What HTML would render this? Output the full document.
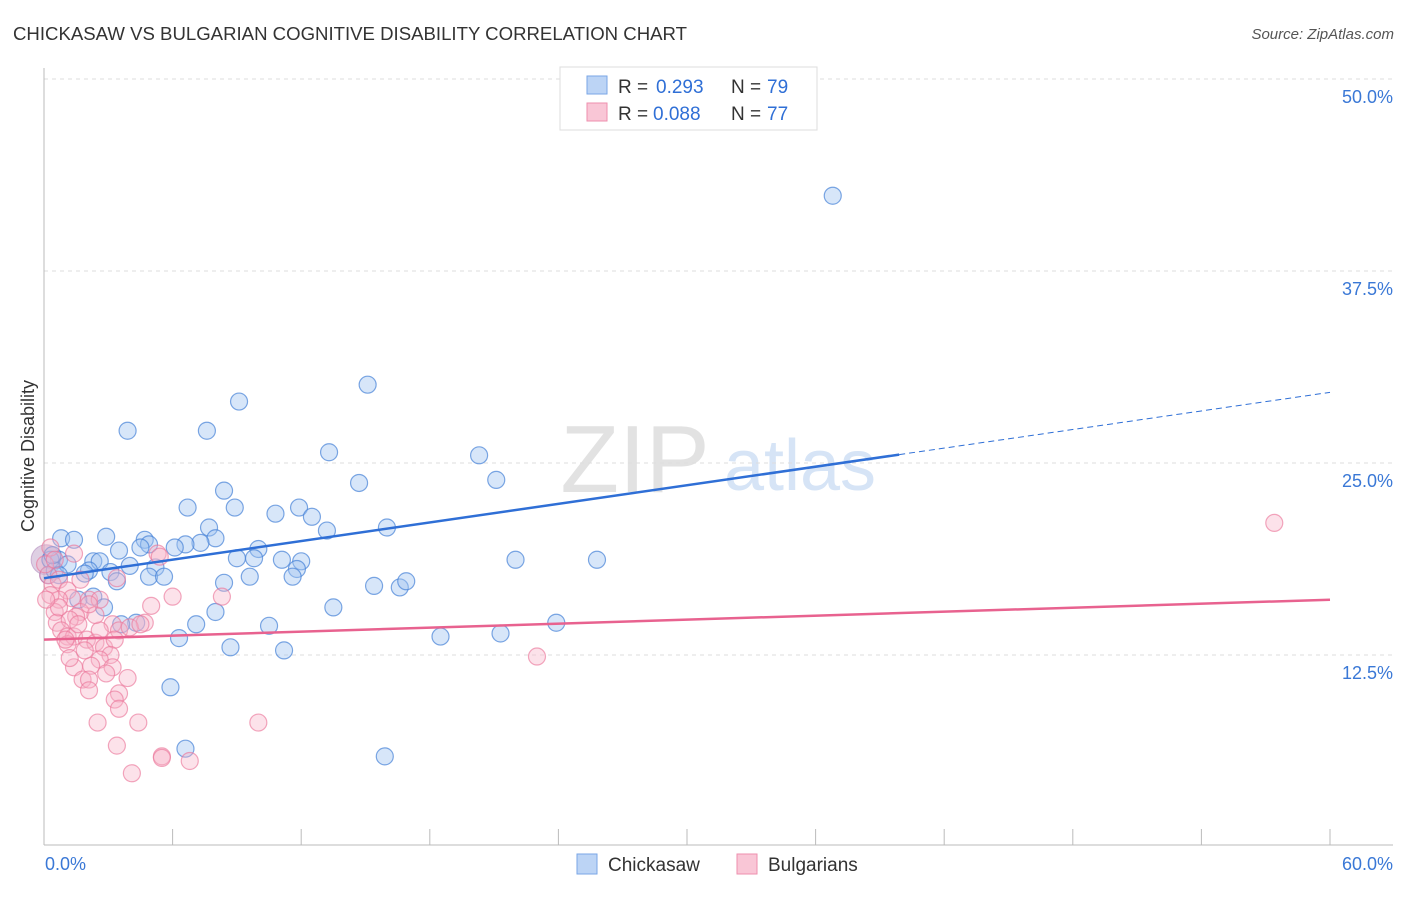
<!DOCTYPE html>
<html><head><meta charset="utf-8"><style>
body{margin:0;background:#fff;font-family:"Liberation Sans",sans-serif;}
svg text{font-family:"Liberation Sans",sans-serif;}
</style></head><body>
<svg id="chart" width="1406" height="892">
<text x="13" y="40" font-size="18.6" fill="#333">CHICKASAW VS BULGARIAN COGNITIVE DISABILITY CORRELATION CHART</text>
<text x="1394" y="39" font-size="15" fill="#555" font-style="italic" text-anchor="end">Source: ZipAtlas.com</text>
<text x="635" y="492" font-size="96" fill="#e2e2e2" text-anchor="middle" font-family="Liberation Serif">ZIP</text>
<text x="800" y="490" font-size="72" fill="#d6e4f6" text-anchor="middle">atlas</text>
<g id="grid"></g><g id="axes"></g><g id="pts"></g><g id="lines"></g>
<text transform="translate(34,456) rotate(-90)" font-size="18" fill="#333" text-anchor="middle">Cognitive Disability</text>
<text x="45" y="870" font-size="18" fill="#3a78d6">0.0%</text>
<text x="1393" y="870" font-size="18" fill="#3a78d6" text-anchor="end">60.0%</text>
<g>
<rect x="560" y="67" width="257" height="63" fill="#fff" stroke="#ddd"/>
<rect x="587" y="76" width="20" height="18" fill="#bcd4f5" stroke="#7aa6e6"/>
<rect x="587" y="103" width="20" height="18" fill="#f9c6d6" stroke="#ee8fae"/>
<text x="618" y="93" font-size="19" fill="#333">R =</text>
<text x="656" y="93" font-size="19" fill="#2f6fd6">0.293</text>
<text x="731" y="93" font-size="19" fill="#333">N =</text>
<text x="767" y="93" font-size="19" fill="#2f6fd6">79</text>
<text x="618" y="120" font-size="19" fill="#333">R =</text>
<text x="653" y="120" font-size="19" fill="#2f6fd6">0.088</text>
<text x="731" y="120" font-size="19" fill="#333">N =</text>
<text x="767" y="120" font-size="19" fill="#2f6fd6">77</text>
</g>
<g>
<rect x="577" y="854" width="20" height="20" fill="#bcd4f5" stroke="#7aa6e6"/>
<text x="608" y="871" font-size="19" fill="#333">Chickasaw</text>
<rect x="737" y="854" width="20" height="20" fill="#f9c6d6" stroke="#ee8fae"/>
<text x="768" y="871" font-size="19" fill="#333">Bulgarians</text>
</g>
</svg>
<script>
const yTicks=[12.5,25,37.5,50];
const yTickLabels=["12.5%","25.0%","37.5%","50.0%"];
const xTicks=[0,6,12,18,24,30,36,42,48,54,60];
const blueX=[36.8,15.1,9.1,3.9,7.6,13.3,20.3,14.7,21.1,8.4,6.7,8.9,11.9,10.8,12.5,7.7,13.2,16.0,0.8,1.4,2.9,4.7,4.9,8.0,7.3,6.6,6.1,4.5,3.5,10.0,9.0,9.8,11.1,12.0,22.0,25.8,0.7,2.3,2.6,4.0,5.2,2.1,11.8,1.9,3.1,4.9,5.6,9.6,11.6,3.4,8.4,15.4,16.6,16.9,2.3,1.6,2.8,8.0,13.5,4.3,3.6,7.1,10.5,23.9,18.5,21.3,6.3,8.7,11.2,5.9,6.6,15.9,0.3,0.2,0.5,1.1,0.7,0.4];
const blueY=[42.4,30.1,29.0,27.1,27.1,25.7,25.5,23.7,23.9,23.2,22.1,22.1,22.1,21.7,21.5,20.8,20.6,20.8,20.1,20.0,20.2,20.0,19.7,20.1,19.8,19.7,19.5,19.5,19.3,19.4,18.8,18.8,18.7,18.6,18.7,18.7,18.7,18.6,18.6,18.3,18.2,18.0,18.1,17.8,17.9,17.6,17.6,17.6,17.6,17.3,17.2,17.0,16.9,17.3,16.3,16.1,15.6,15.3,15.6,14.6,14.5,14.5,14.4,14.6,13.7,13.9,13.6,13.0,12.8,10.4,6.4,5.9,18.7,17.7,18.0,18.4,17.7,19.0];
const pinkX=[57.4,23.0,5.3,1.4,3.4,0.2,0.4,0.7,1.1,1.3,0.7,2.1,8.3,6.0,5.0,1.7,0.5,1.5,0.6,1.2,0.8,3.2,3.5,4.7,4.0,1.1,1.4,2.0,2.4,2.8,1.1,3.3,3.1,2.6,2.2,1.4,3.2,2.9,3.9,1.8,2.1,2.1,3.5,3.3,3.5,2.5,4.4,10.0,3.4,5.5,5.5,6.8,4.1,0.05,0.3,0.7,1.2,2.6,1.9,1.0,2.4,4.5,0.3,0.5,0.1,5.4,1.7,2.6,1.6,2.1];
const pinkY=[21.1,12.4,19.1,19.1,17.5,17.7,17.1,17.4,16.7,16.2,16.1,16.1,16.3,16.3,15.7,15.3,15.3,15.0,14.6,14.8,14.1,14.5,14.1,14.6,14.3,13.7,13.7,13.5,13.3,13.0,13.2,13.5,12.5,12.2,11.8,11.7,11.7,11.3,11.0,10.9,10.9,10.2,10.0,9.6,9.0,8.1,8.1,8.1,6.6,5.9,5.8,5.6,4.8,18.4,16.4,15.6,12.3,14.1,12.8,13.5,15.1,14.5,19.5,18.7,16.1,18.9,17.4,16.1,14.5,15.8];
const blueTrend=[17.5,29.6], blueSolidEnd=39.9;
const pinkTrend=[13.5,16.1];
const X0=44,X1=1330,Y0=847,Y1=79;
const sx=v=>X0+(v/60)*(X1-X0), sy=v=>Y0-(v/50)*(Y0-Y1);
const NS="http://www.w3.org/2000/svg";
function mk(tag,attrs,parent){const e=document.createElementNS(NS,tag);for(const k in attrs)e.setAttribute(k,attrs[k]);document.getElementById(parent).appendChild(e);return e;}
yTicks.forEach((t,i)=>{
 const g=mk('line',{x1:X0,x2:1393,y1:sy(t),y2:sy(t),stroke:'#ddd','stroke-dasharray':'4,4'},'grid');
 
 
 const tx=mk('text',{x:1393,y:sy(t)+24,'font-size':18,fill:'#3a78d6','text-anchor':'end'},'grid');
 tx.textContent=yTickLabels[i];
 
 
});
const ya=mk('line',{x1:X0,x2:X0,y1:68,y2:845,stroke:'#bbb'},'axes');


const xa=mk('line',{x1:X0,x2:1393,y1:845,y2:845,stroke:'#bbb'},'axes');


xTicks.forEach(t=>{
 const l=mk('line',{x1:sx(t),x2:sx(t),y1:829,y2:845,stroke:'#bbb'},'axes');
 
 
});
const big=mk('circle',{cx:sx(0.1),cy:sy(18.7),r:15,fill:'rgba(190,160,200,0.5)',stroke:'rgba(180,140,190,0.6)'},'pts');


blueX.forEach((x,i)=>{
 const c=mk('circle',{cx:sx(x),cy:sy(blueY[i]),r:8.5,fill:'rgba(160,195,240,0.42)',stroke:'rgba(70,130,215,0.7)','stroke-width':1.2},'pts');
 
 
});
pinkX.forEach((x,i)=>{
 const c=mk('circle',{cx:sx(x),cy:sy(pinkY[i]),r:8.5,fill:'rgba(248,180,200,0.38)',stroke:'rgba(235,120,155,0.65)','stroke-width':1.2},'pts');
 
 
});
const by=x=>blueTrend[0]+(blueTrend[1]-blueTrend[0])*x/60;
const b1=mk('line',{x1:sx(0),y1:sy(by(0)),x2:sx(blueSolidEnd),y2:sy(by(blueSolidEnd)),stroke:'#2f6fd6','stroke-width':2.5},'lines');


const b2=mk('line',{x1:sx(blueSolidEnd),y1:sy(by(blueSolidEnd)),x2:sx(60),y2:sy(by(60)),stroke:'#2f6fd6','stroke-width':1,'stroke-dasharray':'6,4'},'lines');


const p1=mk('line',{x1:sx(0),y1:sy(pinkTrend[0]),x2:sx(60),y2:sy(pinkTrend[1]),stroke:'#e8628f','stroke-width':2.5},'lines');


</script>
</body></html>
